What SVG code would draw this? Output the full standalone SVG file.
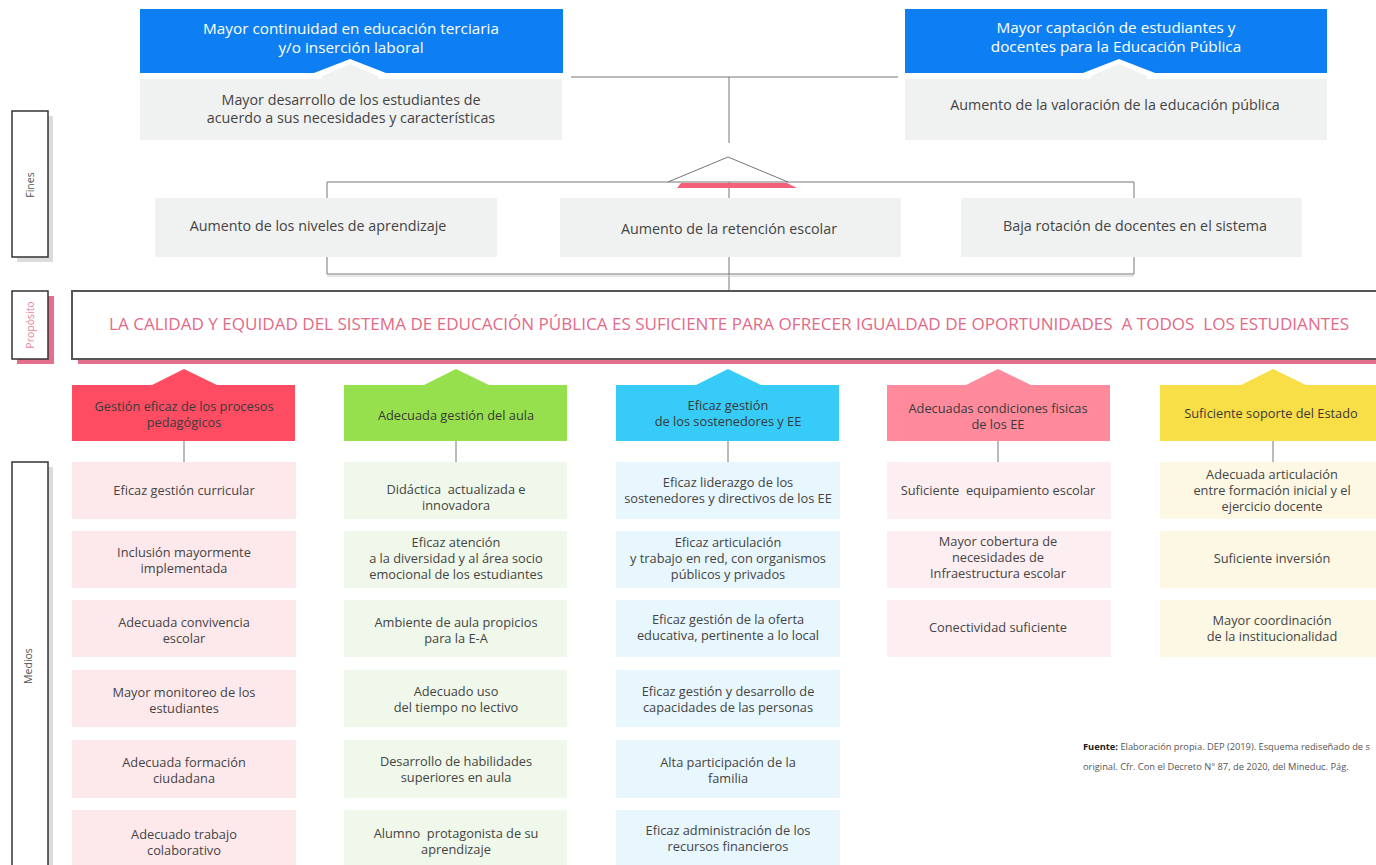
<svg xmlns="http://www.w3.org/2000/svg" width="1376" height="865" viewBox="0 0 1376 865" xml:space="preserve">
<style>
text{font-family:"Open Sans",Lato,"Liberation Sans",sans-serif;fill:#444;text-anchor:middle;white-space:pre}
.top{font-size:15.3px;fill:#fff}
.fin{font-size:14.3px}
.hd{font-size:12.8px;fill:#3a3a3a}
.cd{font-size:12.8px}
.lbl{font-size:10.5px;fill:#555}
.grey{fill:#f0f1f1}
.blue{fill:#0d7ff2}
.ln{stroke:#777;stroke-width:1;fill:none}
.side{fill:#fff;stroke:#333;stroke-width:1.5}
.c1{fill:#fde9ec}.c2{fill:#eff8ea}.c3{fill:#e8f6fd}.c4{fill:#fdeef1}.c5{fill:#fcf8e4}
.foot{font-size:9.3px;text-anchor:start;fill:#555}
</style>
<g id="label-fines"><rect x="17" y="116" width="36" height="146" fill="#dcdcdc"/><rect class="side" x="12" y="111" width="36" height="146"/><text class="lbl" transform="translate(34,185) rotate(-90)">Fines</text></g>
<g id="label-proposito"><rect x="17" y="296" width="37" height="68" fill="#e46f8b"/><rect class="side" x="12" y="291" width="36" height="68"/><text class="lbl" style="fill:#e8849a" transform="translate(34,325) rotate(-90)">Propósito</text></g>
<g id="label-medios"><rect x="17" y="467" width="36" height="410" fill="#dcdcdc"/><rect class="side" x="12" y="462" width="36" height="410"/><text class="lbl" transform="translate(32,666) rotate(-90)">Medios</text></g>
<g id="connectors">
<path class="ln" d="M571 77H898M729 77V143"/>
<path class="ln" d="M327 198V182H1134V198M729 182V198"/>
<polyline class="ln" points="668,182 728,157 788,182"/>
<polygon points="681,183 787,183 797,188 677,188" fill="#f4607a"/>
<path class="ln" d="M327 257V274H1134V257M729 257V291"/>
<path d="M327 276H1134" stroke="#ccc" stroke-width="1"/>
<path class="ln" d="M184 441V462M456 441V462M728 441V462M998 441V462M1273 441V462"/>
</g>
<g id="node-continuidad"><rect class="blue" x="140" y="9" width="423" height="64"/><text class="top" x="351" y="34">Mayor continuidad en educación terciaria</text><text class="top" x="351" y="53">y/o inserción laboral</text></g>
<g id="node-desarrollo"><polygon points="314,73 350,59 386,73" fill="#fff"/><rect class="grey" x="140" y="79" width="422" height="61"/><polygon class="grey" points="322,79 322,76 350,64 378,76 378,79"/><text class="fin" x="351" y="105">Mayor desarrollo de los estudiantes de</text><text class="fin" x="351" y="123">acuerdo a sus necesidades y características</text></g>
<g id="node-captacion"><rect class="blue" x="905" y="9" width="422" height="64"/><text class="top" x="1116" y="33">Mayor captación de estudiantes y</text><text class="top" x="1116" y="52">docentes para la Educación Pública</text></g>
<g id="node-valoracion"><polygon points="1083,73 1119,59 1155,73" fill="#fff"/><rect class="grey" x="905" y="79" width="422" height="61"/><polygon class="grey" points="1091,79 1091,76 1119,64 1147,76 1147,79"/><text class="fin" x="1115" y="110">Aumento de la valoración de la educación pública</text></g>
<g id="node-aprendizaje"><rect class="grey" x="155" y="198" width="342" height="59"/><text class="fin" x="318" y="231">Aumento de los niveles de aprendizaje</text></g>
<g id="node-retencion"><rect class="grey" x="560" y="198" width="341" height="59"/><text class="fin" x="729" y="234">Aumento de la retención escolar</text></g>
<g id="node-rotacion"><rect class="grey" x="961" y="198" width="341" height="59"/><text class="fin" x="1135" y="231">Baja rotación de docentes en el sistema</text></g>
<g id="node-proposito"><rect x="78" y="359" width="1310" height="5" fill="#e46f8b"/><rect x="72" y="291" width="1320" height="68" fill="#fff" stroke="#555" stroke-width="2"/><text x="729" y="330" style="font-size:16px;fill:#e46a88" textLength="1240" lengthAdjust="spacingAndGlyphs">LA CALIDAD Y EQUIDAD DEL SISTEMA DE EDUCACIÓN PÚBLICA ES SUFICIENTE PARA OFRECER IGUALDAD DE OPORTUNIDADES  A TODOS  LOS ESTUDIANTES</text></g>
<g id="header-pedagogicos"><polygon points="150,386 184,369 219,386" fill="#fe4d63"/><rect x="72" y="385" width="223" height="56" fill="#fe4d63"/><text class="hd" x="184" y="411">Gestión eficaz de los procesos</text><text class="hd" x="184" y="427">pedagógicos</text></g>
<g id="header-aula"><polygon points="422,386 456,369 491,386" fill="#97e04d"/><rect x="344" y="385" width="223" height="56" fill="#97e04d"/><text class="hd" x="456" y="420">Adecuada gestión del aula</text></g>
<g id="header-sostenedores"><polygon points="694,386 728,369 763,386" fill="#37cbf7"/><rect x="616" y="385" width="223" height="56" fill="#37cbf7"/><text class="hd" x="728" y="410">Eficaz gestión</text><text class="hd" x="728" y="426">de los sostenedores y EE</text></g>
<g id="header-condiciones"><polygon points="964,386 998,369 1033,386" fill="#fe8a9c"/><rect x="887" y="385" width="223" height="56" fill="#fe8a9c"/><text class="hd" x="998" y="413">Adecuadas condiciones fisicas</text><text class="hd" x="998" y="429">de los EE</text></g>
<g id="header-estado"><polygon points="1239,386 1273,369 1308,386" fill="#f9df47"/><rect x="1160" y="385" width="223" height="56" fill="#f9df47"/><text class="hd" x="1271" y="418">Suficiente soporte del Estado</text></g>
<g id="c1-r1"><rect class="c1" x="72" y="462" width="224" height="57"/><text class="cd" x="184" y="495">Eficaz gestión curricular</text></g>
<g id="c1-r2"><rect class="c1" x="72" y="531" width="224" height="57"/><text class="cd" x="184" y="557">Inclusión mayormente</text><text class="cd" x="184" y="573">implementada</text></g>
<g id="c1-r3"><rect class="c1" x="72" y="600" width="224" height="57"/><text class="cd" x="184" y="627">Adecuada convivencia</text><text class="cd" x="184" y="643">escolar</text></g>
<g id="c1-r4"><rect class="c1" x="72" y="670" width="224" height="57"/><text class="cd" x="184" y="697">Mayor monitoreo de los</text><text class="cd" x="184" y="713">estudiantes</text></g>
<g id="c1-r5"><rect class="c1" x="72" y="740" width="224" height="58"/><text class="cd" x="184" y="767">Adecuada formación</text><text class="cd" x="184" y="783">ciudadana</text></g>
<g id="c1-r6"><rect class="c1" x="72" y="810" width="224" height="60"/><text class="cd" x="184" y="839">Adecuado trabajo</text><text class="cd" x="184" y="855">colaborativo</text></g>
<g id="c2-r1"><rect class="c2" x="344" y="462" width="223" height="57"/><text class="cd" x="456" y="494">Didáctica  actualizada e</text><text class="cd" x="456" y="510">innovadora</text></g>
<g id="c2-r2"><rect class="c2" x="344" y="531" width="223" height="57"/><text class="cd" x="456" y="547">Eficaz atención</text><text class="cd" x="456" y="563">a la diversidad y al área socio</text><text class="cd" x="456" y="579">emocional de los estudiantes</text></g>
<g id="c2-r3"><rect class="c2" x="344" y="600" width="223" height="57"/><text class="cd" x="456" y="627">Ambiente de aula propicios</text><text class="cd" x="456" y="643">para la E-A</text></g>
<g id="c2-r4"><rect class="c2" x="344" y="670" width="223" height="57"/><text class="cd" x="456" y="696">Adecuado uso</text><text class="cd" x="456" y="712">del tiempo no lectivo</text></g>
<g id="c2-r5"><rect class="c2" x="344" y="740" width="223" height="58"/><text class="cd" x="456" y="766">Desarrollo de habilidades</text><text class="cd" x="456" y="782">superiores en aula</text></g>
<g id="c2-r6"><rect class="c2" x="344" y="810" width="223" height="60"/><text class="cd" x="456" y="838">Alumno  protagonista de su</text><text class="cd" x="456" y="854">aprendizaje</text></g>
<g id="c3-r1"><rect class="c3" x="616" y="462" width="224" height="57"/><text class="cd" x="728" y="487">Eficaz liderazgo de los</text><text class="cd" x="728" y="503">sostenedores y directivos de los EE</text></g>
<g id="c3-r2"><rect class="c3" x="616" y="531" width="224" height="57"/><text class="cd" x="728" y="547">Eficaz articulación</text><text class="cd" x="728" y="563">y trabajo en red, con organismos</text><text class="cd" x="728" y="579">públicos y privados</text></g>
<g id="c3-r3"><rect class="c3" x="616" y="600" width="224" height="57"/><text class="cd" x="728" y="624">Eficaz gestión de la oferta</text><text class="cd" x="728" y="640">educativa, pertinente a lo local</text></g>
<g id="c3-r4"><rect class="c3" x="616" y="670" width="224" height="57"/><text class="cd" x="728" y="696">Eficaz gestión y desarrollo de</text><text class="cd" x="728" y="712">capacidades de las personas</text></g>
<g id="c3-r5"><rect class="c3" x="616" y="740" width="224" height="58"/><text class="cd" x="728" y="767">Alta participación de la</text><text class="cd" x="728" y="783">familia</text></g>
<g id="c3-r6"><rect class="c3" x="616" y="810" width="224" height="60"/><text class="cd" x="728" y="835">Eficaz administración de los</text><text class="cd" x="728" y="851">recursos financieros</text></g>
<g id="c4-r1"><rect class="c4" x="887" y="462" width="224" height="57"/><text class="cd" x="998" y="495">Suficiente  equipamiento escolar</text></g>
<g id="c4-r2"><rect class="c4" x="887" y="531" width="224" height="57"/><text class="cd" x="998" y="546">Mayor cobertura de</text><text class="cd" x="998" y="562">necesidades de</text><text class="cd" x="998" y="578">Infraestructura escolar</text></g>
<g id="c4-r3"><rect class="c4" x="887" y="600" width="224" height="57"/><text class="cd" x="998" y="632">Conectividad suficiente</text></g>
<g id="c5-r1"><rect class="c5" x="1160" y="462" width="224" height="57"/><text class="cd" x="1272" y="479">Adecuada articulación</text><text class="cd" x="1272" y="495">entre formación inicial y el</text><text class="cd" x="1272" y="511">ejercicio docente</text></g>
<g id="c5-r2"><rect class="c5" x="1160" y="531" width="224" height="57"/><text class="cd" x="1272" y="563">Suficiente inversión</text></g>
<g id="c5-r3"><rect class="c5" x="1160" y="600" width="224" height="57"/><text class="cd" x="1272" y="625">Mayor coordinación</text><text class="cd" x="1272" y="641">de la institucionalidad</text></g>
<g id="fuente"><text class="foot" x="1083" y="750"><tspan font-weight="bold" fill="#222">Fuente:</tspan> Elaboración propia. DEP (2019). Esquema rediseñado de s</text><text class="foot" x="1083" y="770">original. Cfr. Con el Decreto N° 87, de 2020, del Mineduc. Pág.</text></g>
</svg>
